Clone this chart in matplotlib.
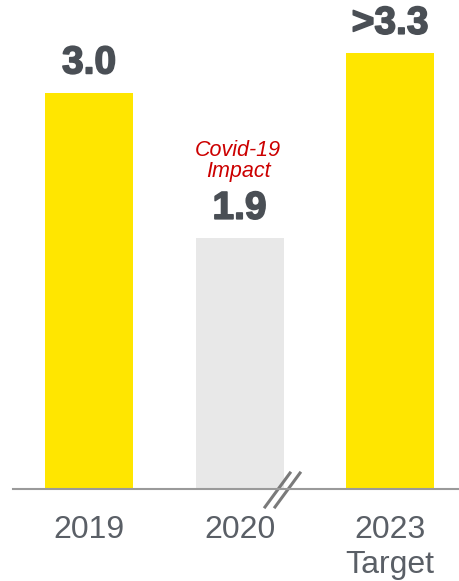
import matplotlib.pyplot as plt
import matplotlib.patheffects as pe

# Data
categories = ["2019", "2020", "2023\nTarget"]
values = [3.0, 1.9, 3.3]
value_labels = ["3.0", "1.9", ">3.3"]
bar_colors = ["#FFE600", "#E8E8E8", "#FFE600"]

plt.rcParams['font.family'] = ['Liberation Sans', 'DejaVu Sans']

fig = plt.figure(figsize=(4.59, 5.81), dpi=100)
ax = fig.add_axes([13 / 459, 92 / 581, 446 / 459, 489 / 581])

x = list(range(len(categories)))
ax.bar(x, values, width=0.585, color=bar_colors)

ax.set_xlim(-0.505, 2.458)
ax.set_ylim(0, 3.70)

# value labels above bars
heavy = [pe.withStroke(linewidth=1.2, foreground="#4A4F55")]
for xi, v, lab in zip(x, values, value_labels):
    ax.annotate(lab, (xi, v), xytext=(0, 8), textcoords="offset points",
                ha="center", va="bottom", fontsize=28, fontweight="bold",
                color="#4A4F55", path_effects=heavy)

# Covid note over 2020 bar
ax.annotate("Covid-19\nImpact", (1, values[1]), xytext=(-1, 40),
            textcoords="offset points", ha="center", va="bottom",
            fontsize=15.5, style="italic", color="#CC0000", linespacing=1.0)

# axes styling
for s in ["top", "right", "left"]:
    ax.spines[s].set_visible(False)
ax.spines["bottom"].set_color("#9A9A9A")
ax.spines["bottom"].set_linewidth(1.5)
ax.set_yticks([])
ax.set_xticks(x)
ax.set_xticklabels(categories, fontsize=23, color="#5A5F66", linespacing=1.2)
ax.tick_params(axis="x", length=0, pad=19)

# axis break mark
for dx in [0.0, 10 / 446]:
    ax.plot([(265 - 13) / 446 + dx, (290 - 13) / 446 + dx],
            [-18 / 489, 16 / 489], transform=ax.transAxes,
            color="#7A7A7A", lw=2.2, clip_on=False)

fig.savefig("out.png", dpi=100)
